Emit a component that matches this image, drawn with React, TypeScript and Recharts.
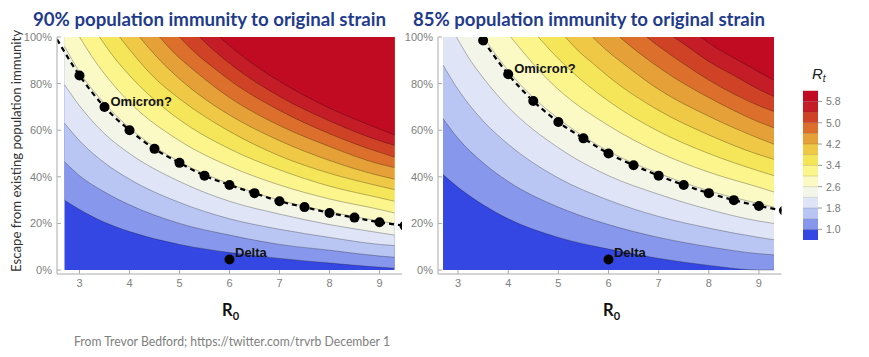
import React from "react";
import { ComposedChart, Area, Line, Scatter, XAxis, YAxis } from "recharts";

type Pt = [number, number];

const R0_TICKS = [3, 4, 5, 6, 7, 8, 9];
const ESCAPE_TICKS = [0, 20, 40, 60, 80, 100];
const RT_LEVELS = [1.0, 1.4, 1.8, 2.2, 2.6, 3.0, 3.4, 3.8, 4.2, 4.6, 5.0, 5.4, 5.8];
const LEGEND_TICKS = [1.0, 1.8, 2.6, 3.4, 4.2, 5.0, 5.8];
// one colour per band, from Rt < 1.0 up to Rt > 5.8
const BAND_COLORS = [
  "#3447e3", "#8797ec", "#b9c5f2", "#dfe5f7", "#f3f5e8", "#fbf9c4", "#fbf58b",
  "#f5e558", "#efc845", "#e5a037", "#dc6f2b", "#cf4226", "#c51d27", "#c00b22",
];
const TITLE_BLUE = "#1f3b8c";

// extent of the shaded region (R0 2.7 - 9.3)
const PLOT_FLOOR: Pt[] = [[2.7, 0], [9.3, 0]];

// 90% immunity panel: contour lines [R0, escape %]
const p90_10: Pt[] = [[2.7, 30], [3, 26], [3.5, 20.5], [4, 16.5], [5, 11], [6, 7.5], [7, 5], [8, 3], [9, 1.2], [9.3, 0.8]];
const p90_14: Pt[] = [[2.7, 46.5], [3, 40.5], [3.5, 33.5], [4, 28], [5, 20], [6, 15], [7, 11], [8, 8.5], [9, 6], [9.3, 5.5]];
const p90_18: Pt[] = [[2.7, 63], [3, 55.5], [3.5, 46], [4, 39], [5, 29], [6, 22], [7, 17.5], [8, 14], [9, 11], [9.3, 10.5]];
const p90_22: Pt[] = [[2.7, 79.5], [3, 70.5], [3.5, 58.5], [4, 50], [5, 38], [6, 29.5], [7, 24], [8, 19.5], [9, 16], [9.3, 15]];
const p90_26: Pt[] = [[2.7, 96], [3, 85], [3.5, 71.5], [4, 61], [5, 46.5], [6, 37], [7, 30], [8, 25], [9, 21], [9.3, 20]];
const p90_30: Pt[] = [[3, 100], [3.3, 90], [3.6, 81.5], [4, 72], [5, 55.5], [6, 44.5], [7, 36.5], [8, 30.5], [9, 26], [9.3, 24.5]];
const p90_34: Pt[] = [[3.4, 100], [3.7, 91], [4, 83.5], [4.5, 73], [5, 64.5], [6, 52], [7, 43], [8, 36], [9, 31], [9.3, 29.5]];
const p90_38: Pt[] = [[3.8, 100], [4.1, 92], [4.5, 82.5], [5, 73.5], [6, 59.5], [7, 49], [8, 41.5], [9, 36], [9.3, 34.5]];
const p90_42: Pt[] = [[4.2, 100], [4.5, 92.5], [5, 82], [5.5, 73.5], [6, 66.5], [7, 55.5], [8, 47], [9, 40.5], [9.3, 39]];
const p90_46: Pt[] = [[4.6, 100], [4.9, 93], [5.3, 85.5], [6, 74], [7, 62], [8, 53], [9, 45.5], [9.3, 44]];
const p90_50: Pt[] = [[5, 100], [5.3, 93.5], [5.7, 86.5], [6, 81.5], [7, 68.5], [8, 58.5], [9, 50.5], [9.3, 48.5]];
const p90_54: Pt[] = [[5.4, 100], [5.7, 94], [6.1, 87], [7, 74.5], [8, 64], [9, 55.5], [9.3, 53.5]];
const p90_58: Pt[] = [[5.8, 100], [6.1, 94.5], [6.5, 88], [7, 81], [8, 69.5], [9, 60.5], [9.3, 58]];

// 85% immunity panel
const p85_10: Pt[] = [[2.7, 41], [3, 35.5], [3.5, 28], [4, 22], [5, 14], [6, 9], [7, 5], [8, 2], [9, 0], [9.3, 0]];
const p85_14: Pt[] = [[2.7, 65], [3, 56.5], [3.5, 46], [4, 38], [5, 27], [6, 19.5], [7, 14], [8, 10], [9, 7], [9.3, 6.5]];
const p85_18: Pt[] = [[2.7, 88], [3, 77.5], [3.5, 64], [4, 54], [5, 39.5], [6, 30], [7, 23], [8, 18], [9, 14], [9.3, 13]];
const p85_22: Pt[] = [[2.97, 100], [3.2, 91.5], [3.5, 82.5], [4, 70], [5, 52.5], [6, 40.5], [7, 32.5], [8, 26], [9, 21], [9.3, 20]];
const p85_26: Pt[] = [[3.51, 100], [3.7, 94], [4, 85.5], [4.5, 74], [5, 65], [6, 51], [7, 41.5], [8, 34], [9, 28.5], [9.3, 27]];
const p85_30: Pt[] = [[4.05, 100], [4.3, 93.5], [4.6, 86], [5, 77.5], [6, 62], [7, 50.5], [8, 42], [9, 35.5], [9.3, 33.5]];
const p85_34: Pt[] = [[4.6, 100], [4.85, 94], [5.2, 86.5], [6, 72.5], [7, 59.5], [8, 50], [9, 42.5], [9.3, 40.5]];
const p85_38: Pt[] = [[5.14, 100], [5.4, 94], [5.7, 88.5], [6, 83], [7, 68.5], [8, 58], [9, 49.5], [9.3, 47.5]];
const p85_42: Pt[] = [[5.68, 100], [5.95, 94.5], [6.3, 88.5], [7, 77.5], [8, 66], [9, 56.5], [9.3, 54]];
const p85_46: Pt[] = [[6.22, 100], [6.5, 95], [6.9, 88.5], [7.5, 80], [8, 74], [9, 63.5], [9.3, 61]];
const p85_50: Pt[] = [[6.76, 100], [7, 96], [7.5, 88.5], [8, 81.5], [9, 70.5], [9.3, 68]];
const p85_54: Pt[] = [[7.3, 100], [7.6, 95.5], [8, 89.5], [8.5, 83.5], [9, 77.5], [9.3, 74.5]];
const p85_58: Pt[] = [[7.84, 100], [8.1, 96], [8.5, 91], [9, 85], [9.3, 81.5]];

// Omicron? points (dashed curve) and Delta
const OMICRON_90: Pt[] = [
  [3, 83.5], [3.5, 70], [4, 60], [4.5, 52], [5, 46], [5.5, 40.5], [6, 36.5],
  [6.5, 33], [7, 29.5], [7.5, 27], [8, 24.5], [8.5, 22.5], [9, 20.5], [9.5, 19],
];
const OMICRON_90_START: Pt = [2.55, 99];
const OMICRON_90_TAG: Pt = [3.5, 70];
const OMICRON_85: Pt[] = [
  [3.5, 98.5], [4, 84], [4.5, 72.5], [5, 63.5], [5.5, 56.5], [6, 50], [6.5, 45],
  [7, 40.5], [7.5, 36.5], [8, 33], [8.5, 30], [9, 27.5], [9.5, 25.5],
];
const OMICRON_85_TAG: Pt = [4, 84];
const DELTA: Pt = [6, 4.5];

const CONTOURS_90 = [p90_10, p90_14, p90_18, p90_22, p90_26, p90_30, p90_34, p90_38, p90_42, p90_46, p90_50, p90_54, p90_58];
const CONTOURS_85 = [p85_10, p85_14, p85_18, p85_22, p85_26, p85_30, p85_34, p85_38, p85_42, p85_46, p85_50, p85_54, p85_58];

const toRows = (pts: Pt[]) => pts.map(([r0, e]) => ({ r0, e }));

const tickStyle = { fill: "#808080", fontSize: 11, fontFamily: "Liberation Sans, Arial, sans-serif" };
const labelFont = "Liberation Sans, Arial, sans-serif";

const dotShape = (p: any) => <circle cx={p.cx} cy={p.cy} r={5} fill="#000" />;

const omicronShape = (p: any) => (
  <text x={p.cx + 6} y={p.cy - 1} fontSize={13} fontWeight="bold" fontFamily={labelFont} fill="#111">
    Omicron?
  </text>
);

const deltaShape = (p: any) => (
  <g>
    <circle cx={p.cx} cy={p.cy} r={5} fill="#000" />
    <text x={p.cx + 5.5} y={p.cy - 2.7} fontSize={13} fontWeight="bold" fontFamily={labelFont} fill="#111">
      Delta
    </text>
  </g>
);

interface PanelProps {
  contours: Pt[][];
  omicron: Pt[];
  start?: Pt;
  tag: Pt;
  domain: [number, number];
  width: number;
  axisWidth: number;
  right: number;
}

function ContourPanel({ contours, omicron, start, tag, domain, width, axisWidth, right }: PanelProps) {
  const trend = start ? [start, ...omicron] : omicron;
  return (
    <ComposedChart width={width} height={300} margin={{ top: 37, right, bottom: 0, left: 0 }}>
      <XAxis
        type="number"
        dataKey="r0"
        domain={domain}
        allowDataOverflow
        ticks={R0_TICKS}
        interval={0}
        height={26}
        tick={tickStyle}
        tickSize={-4}
        tickMargin={9}
        axisLine={{ stroke: "#aaa" }}
        tickLine={{ stroke: "#aaa" }}
      />
      <YAxis
        type="number"
        dataKey="e"
        domain={[-1.7, 100]}
        allowDataOverflow
        ticks={ESCAPE_TICKS}
        interval={0}
        width={axisWidth}
        tick={tickStyle}
        tickSize={-4}
        tickMargin={9}
        tickFormatter={(v) => `${v}%`}
        axisLine={{ stroke: "#aaa" }}
        tickLine={{ stroke: "#aaa" }}
      />
      <Area
        data={toRows(PLOT_FLOOR)}
        dataKey="e"
        type="linear"
        baseValue={100}
        fill={BAND_COLORS[0]}
        fillOpacity={1}
        stroke="none"
        dot={false}
        activeDot={false}
        isAnimationActive={false}
      />
      {contours.map((c, i) => (
        <Area
          key={RT_LEVELS[i]}
          data={toRows(c)}
          dataKey="e"
          type="monotone"
          baseValue={100}
          fill={BAND_COLORS[i + 1]}
          fillOpacity={1}
          stroke="#000"
          strokeOpacity={0.35}
          strokeWidth={0.8}
          dot={false}
          activeDot={false}
          isAnimationActive={false}
        />
      ))}
      <Line
        data={toRows(trend)}
        dataKey="e"
        type="monotone"
        stroke="#000"
        strokeWidth={2.2}
        strokeDasharray="5 4"
        dot={false}
        activeDot={false}
        isAnimationActive={false}
      />
      <Scatter data={toRows(omicron)} dataKey="e" shape={dotShape} isAnimationActive={false} />
      <Scatter data={toRows([tag])} dataKey="e" shape={omicronShape} isAnimationActive={false} />
      <Scatter data={toRows([DELTA])} dataKey="e" shape={deltaShape} isAnimationActive={false} />
    </ComposedChart>
  );
}

function ColorBar() {
  const x = 803;
  const w = 15;
  const bottom = 240;
  const h = 10.66;
  return (
    <g>
      {BAND_COLORS.map((c, i) => (
        <rect key={c} x={x} y={bottom - (i + 1) * h} width={w} height={h} fill={c} />
      ))}
      {RT_LEVELS.map((lv, i) => (
        <line key={lv} x1={x} x2={x + w} y1={bottom - (i + 1) * h} y2={bottom - (i + 1) * h} stroke="#000" strokeOpacity={0.12} />
      ))}
      {LEGEND_TICKS.map((v) => {
        const y = bottom - (RT_LEVELS.indexOf(v) + 1) * h;
        return (
          <g key={v}>
            <line x1={x + w} x2={x + w + 4} y1={y} y2={y} stroke="#999" />
            <text x={x + w + 8} y={y + 3.8} fontSize={10.5} fill="#777" fontFamily={labelFont}>
              {v.toFixed(1)}
            </text>
          </g>
        );
      })}
      <text x={812} y={79} fontSize={15} fontStyle="italic" fill="#222" fontFamily={labelFont}>
        R<tspan fontSize={10} dy={3}>t</tspan>
      </text>
    </g>
  );
}

export default function App() {
  return (
    <div style={{ position: "absolute", left: 0, top: 0, width: 869, height: 357, background: "#fff", overflow: "hidden" }}>
      <div style={{ position: "absolute", left: 0, top: 0 }}>
        <ContourPanel
          contours={CONTOURS_90}
          omicron={OMICRON_90}
          start={OMICRON_90_START}
          tag={OMICRON_90_TAG}
          domain={[2.55, 9.45]}
          width={420}
          axisWidth={57}
          right={18}
        />
      </div>
      <div style={{ position: "absolute", left: 400, top: 0 }}>
        <ContourPanel
          contours={CONTOURS_85}
          omicron={OMICRON_85}
          tag={OMICRON_85_TAG}
          domain={[2.6, 9.45]}
          width={400}
          axisWidth={38}
          right={18.5}
        />
      </div>
      <svg width={869} height={357} style={{ position: "absolute", left: 0, top: 0, pointerEvents: "none" }}>
        <text x={209.5} y={26} textAnchor="middle" fontFamily="Lato, sans-serif" fontWeight="bold" fontSize={19}
          fill={TITLE_BLUE} textLength={353} lengthAdjust="spacingAndGlyphs">
          90% population immunity to original strain
        </text>
        <text x={589} y={26} textAnchor="middle" fontFamily="Lato, sans-serif" fontWeight="bold" fontSize={19}
          fill={TITLE_BLUE} textLength={352} lengthAdjust="spacingAndGlyphs">
          85% population immunity to original strain
        </text>
        <text transform="translate(21,151) rotate(-90)" textAnchor="middle" fontFamily="Lato, sans-serif" fontSize={13}
          fill="#333" textLength={242} lengthAdjust="spacingAndGlyphs">
          Escape from existing population immunity
        </text>
        <text x={222} y={316} fontFamily="Lato, sans-serif" fontWeight="bold" fontSize={16.5} fill="#111">
          R<tspan fontSize={11} dy={4}>0</tspan>
        </text>
        <text x={603} y={316} fontFamily="Lato, sans-serif" fontWeight="bold" fontSize={16.5} fill="#111">
          R<tspan fontSize={11} dy={4}>0</tspan>
        </text>
        <text x={74} y={346} fontFamily="Lato, sans-serif" fontSize={12.5} fill="#808080" textLength={316}
          lengthAdjust="spacingAndGlyphs">
          From Trevor Bedford; https://twitter.com/trvrb December 1
        </text>
        <ColorBar />
      </svg>
    </div>
  );
}
